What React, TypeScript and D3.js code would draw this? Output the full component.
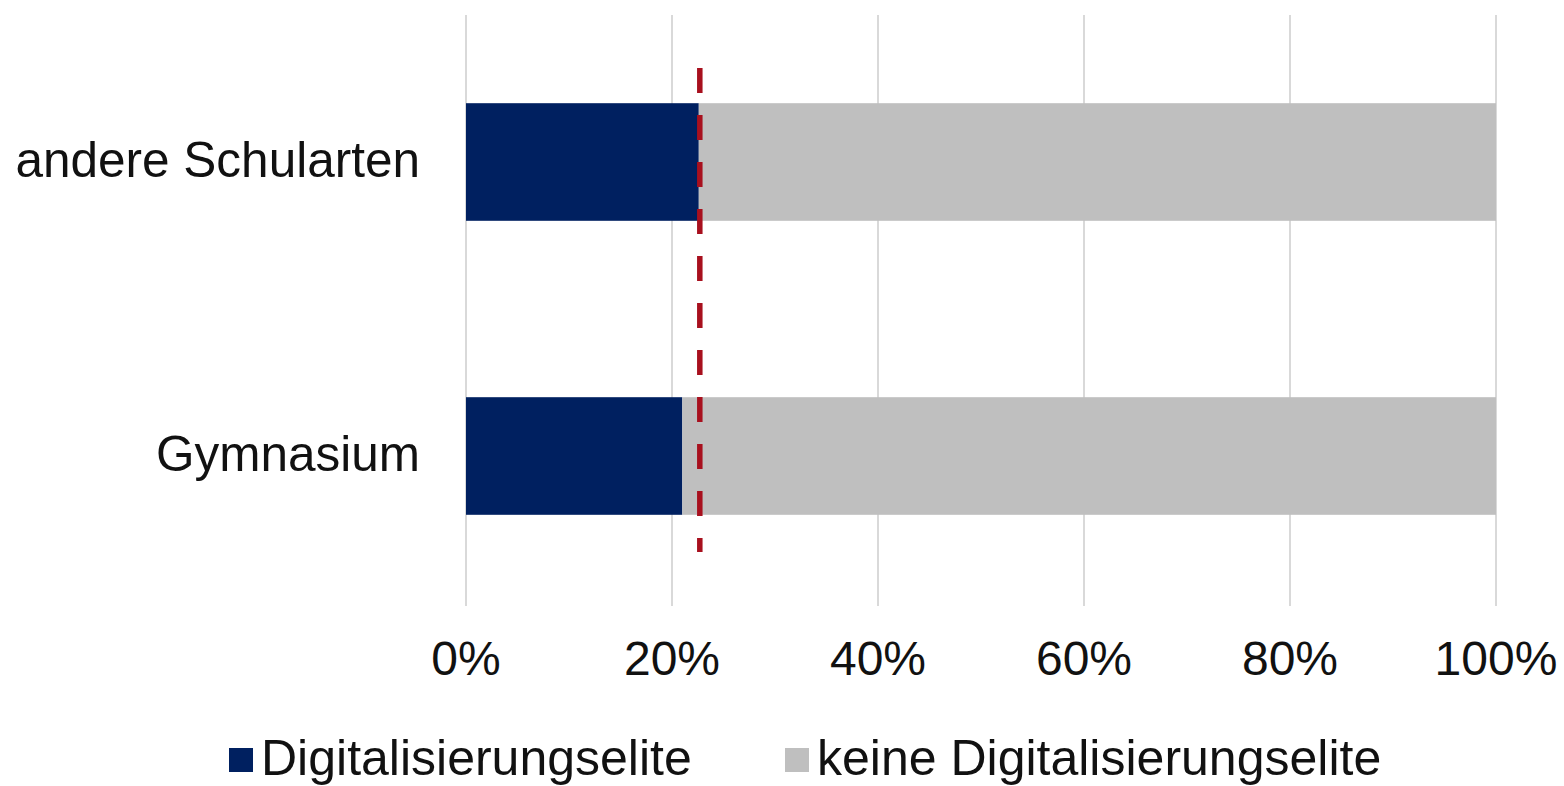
import React, { useEffect, useRef } from "react";
import * as d3 from "d3";

const categories = ["andere Schularten", "Gymnasium"];
const eliteShare = [22.6, 21.0];
const otherShare = [77.4, 79.0];
const seriesNames = ["Digitalisierungselite", "keine Digitalisierungselite"];
const xTicks = [0, 20, 40, 60, 80, 100];
const referenceValue = 22.7;

export default function App() {
  const ref = useRef<SVGSVGElement | null>(null);
  const width = 1564;
  const height = 786;

  useEffect(() => {
    const svg = d3.select(ref.current).attr("width", width).attr("height", height);
    svg.selectAll("*").remove();

    const margin = { top: 15, right: 68, bottom: 183, left: 466 };
    const font = "'Liberation Sans', Arial, sans-serif";
    const colors = ["#002060", "#bfbfbf"];

    const x = d3
      .scaleLinear()
      .domain([0, 100])
      .range([margin.left, width - margin.right]);

    const y = d3
      .scaleBand()
      .domain(categories)
      .range([margin.top, height - margin.bottom])
      .paddingInner(0.6)
      .paddingOuter(0.3);

    // grid
    svg
      .append("g")
      .selectAll("line")
      .data(xTicks)
      .join("line")
      .attr("x1", (d) => x(d))
      .attr("x2", (d) => x(d))
      .attr("y1", margin.top)
      .attr("y2", height - margin.bottom + 3)
      .attr("stroke", "#d9d9d9")
      .attr("stroke-width", 2);

    // stacked bars
    const rows = categories.map((c, i) => ({ cat: c, a: eliteShare[i], b: otherShare[i] }));
    svg
      .append("g")
      .selectAll("rect")
      .data(rows)
      .join("rect")
      .attr("x", x(0))
      .attr("y", (d) => y(d.cat)!)
      .attr("width", (d) => x(d.a) - x(0))
      .attr("height", y.bandwidth())
      .attr("fill", colors[0]);

    svg
      .append("g")
      .selectAll("rect")
      .data(rows)
      .join("rect")
      .attr("x", (d) => x(d.a))
      .attr("y", (d) => y(d.cat)!)
      .attr("width", (d) => x(d.a + d.b) - x(d.a))
      .attr("height", y.bandwidth())
      .attr("fill", colors[1]);

    // reference line (dashed)
    const [r0, r1] = y.range();
    svg
      .append("line")
      .attr("x1", x(referenceValue))
      .attr("x2", x(referenceValue))
      .attr("y1", r0 + 53)
      .attr("y2", r1 - 51)
      .attr("stroke", "#a8101e")
      .attr("stroke-width", 5.5)
      .attr("stroke-dasharray", "25 22");

    // category labels
    svg
      .append("g")
      .selectAll("text")
      .data(categories)
      .join("text")
      .attr("x", 420)
      .attr("y", (d) => y(d)! + y.bandwidth() / 2 + 15)
      .attr("text-anchor", "end")
      .attr("font-family", font)
      .attr("font-size", 49.5)
      .attr("fill", "#111")
      .text((d) => d);

    // x tick labels
    svg
      .append("g")
      .selectAll("text")
      .data(xTicks)
      .join("text")
      .attr("x", (d) => x(d))
      .attr("y", 675)
      .attr("text-anchor", "middle")
      .attr("font-family", font)
      .attr("font-size", 48)
      .attr("fill", "#111")
      .text((d) => `${d}%`);

    // legend
    const legendX = [229, 785];
    const lg = svg.append("g");
    seriesNames.forEach((name, i) => {
      lg.append("rect")
        .attr("x", legendX[i])
        .attr("y", 748)
        .attr("width", 24)
        .attr("height", 24)
        .attr("fill", colors[i]);
      lg.append("text")
        .attr("x", legendX[i] + 32)
        .attr("y", 775)
        .attr("font-family", font)
        .attr("font-size", 50)
        .attr("fill", "#111")
        .text(name);
    });
  }, []);

  return <svg ref={ref} style={{ position: "absolute", left: 0, top: 0, background: "#fff" }} />;
}
